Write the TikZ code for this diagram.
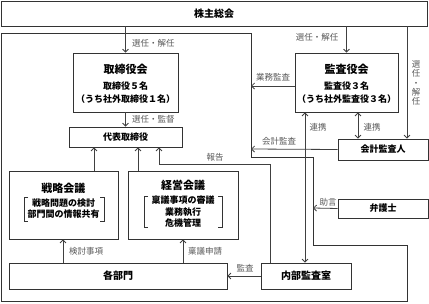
\documentclass[tikz,border=0pt]{standalone}
\usepackage{fontspec}
\setmainfont{Noto Sans CJK JP}
\usetikzlibrary{arrows.meta}
\begin{document}
\begin{tikzpicture}[x=1pt,y=-1pt,
  frame/.style={draw=black!80, line width=0.8pt},
  box/.style={draw=black!80, line width=0.8pt, fill=white, inner sep=0pt, align=center,
    font=\fontsize{9}{11}\selectfont\bfseries},
  txt/.style={inner sep=0pt, align=center, font=\fontsize{9}{11}\selectfont\bfseries},
  ttl/.style={inner sep=0pt, align=center, font=\fontsize{11}{13}\selectfont\bfseries},
  arr/.style={draw=black!75, line width=0.8pt, -{Straight Barb[length=3pt,width=6pt]}},
  darr/.style={draw=black!75, line width=0.8pt, {Straight Barb[length=3pt,width=6pt]}-{Straight Barb[length=3pt,width=6pt]}},
  lbl/.style={text=black!65, inner sep=0pt, font=\fontsize{8.5}{9.2}\selectfont},
  brk/.style={draw=black!80, line width=0.7pt},
]
\useasboundingbox (0,0) rectangle (429,303);

% company frame
\draw[frame] (1,33) -- (251,33) -- (251,157) -- (313,157) -- (313,245) -- (407,245) -- (407,301) -- (1,301) -- cycle;

% boxes
\node[box, minimum width=426pt, minimum height=25pt, font=\fontsize{10}{12}\selectfont\bfseries] (sh) at (214,13.5) {株主総会};
\node[box, minimum width=105pt, minimum height=59pt] (bod) at (125.5,82.5) {};
\node[ttl] (bodt) at (125.5,69) {取締役会};
\node[txt] (bod1) at (125.5,86) {取締役５名};
\node[txt] (bod2) at (125.5,99) {（うち社外取締役１名）};

\node[box, minimum width=113pt, minimum height=20pt] (rep) at (125.5,137) {代表取締役};

\node[box, minimum width=109pt, minimum height=68pt] (strat) at (63.5,205) {};
\node[ttl] (stratt) at (63.5,188) {戦略会議};
\node[txt] (strat1) at (63.5,203) {戦略問題の検討};
\node[txt] (strat2) at (63.5,214) {部門間の情報共有};
\draw[brk] (28,197) -- (24,197) -- (24,221) -- (28,221);
\draw[brk] (100,197) -- (104,197) -- (104,221) -- (100,221);

\node[box, minimum width=110pt, minimum height=68pt] (mgmt) at (183,205) {};
\node[ttl] (mgmtt) at (183,185) {経営会議};
\node[txt] (mgmt1) at (183,200) {稟議事項の審議};
\node[txt] (mgmt2) at (183,212) {業務執行};
\node[txt] (mgmt3) at (183,223) {危機管理};
\draw[brk] (148,196) -- (144,196) -- (144,227) -- (148,227);
\draw[brk] (218,196) -- (222,196) -- (222,227) -- (218,227);

\node[box, minimum width=218pt, minimum height=26pt, font=\fontsize{10}{12}\selectfont\bfseries] (dept) at (118,276) {各部門};
\node[box, minimum width=90pt, minimum height=26pt, font=\fontsize{10}{12}\selectfont\bfseries] (ia) at (306,276) {内部監査室};

\node[box, minimum width=103pt, minimum height=59pt] (kansa) at (346.5,82.5) {};
\node[ttl] (kansat) at (346.5,69) {監査役会};
\node[txt] (kansa1) at (346.5,86) {監査役３名};
\node[txt] (kansa2) at (346.5,99) {（うち社外監査役３名）};

\node[box, minimum width=90pt, minimum height=21pt] (aud) at (383,149.5) {会計監査人};
\node[box, minimum width=90pt, minimum height=19pt] (law) at (383,208.5) {弁護士};

% helper coordinates
\coordinate (c94) at (94,0);
\coordinate (c138) at (138,0);
\coordinate (c159) at (159,0);
\coordinate (c270) at (270,0);
\coordinate (c305) at (305,0);
\coordinate (c358) at (358,0);
\coordinate (c407) at (407,0);
\coordinate (c63) at (63,0);
\coordinate (y164) at (0,164);
\coordinate (fa) at (251,86);
\coordinate (fb) at (251,149);
\coordinate (fc) at (313,208);

% connectors
\draw[arr] (bod.north |- sh.south) -- (bod.north);
\draw[arr] (bod.south) -- (rep.north);
\draw[arr] (strat.north -| c94) -- (rep.south -| c94);
\draw[arr] (mgmt.north -| c138) -- (rep.south -| c138);
\draw[arr] (ia.north -| c270) -- (c270 |- y164) -- (c159 |- y164) -- (rep.south -| c159);
\draw[arr] (dept.north -| c63) -- (strat.south -| c63);
\draw[arr] (dept.north -| mgmt.south) -- (mgmt.south);
\draw[arr] (ia.west) -- (dept.east);
\draw[arr] (kansa.north |- sh.south) -- (kansa.north);
\draw[arr] (kansa.west |- fa) -- (fa);
\draw[arr] (aud.west) -- (fb);
\draw[darr] (kansa.south -| c305) -- (ia.north -| c305);
\draw[darr] (kansa.south -| c358) -- (aud.north -| c358);
\draw[arr] (sh.south -| c407) -- (aud.north -| c407);
\draw[arr] (law.west) -- (fc);

% labels
\node[lbl, anchor=west] (l1) at (132,43) {選任・解任};
\node[lbl, anchor=west] (l2) at (132,119) {選任・監督};
\node[lbl] (l3) at (317,37) {選任・解任};
\node[lbl] (l4) at (273,77) {業務監査};
\node[lbl] (l5) at (318,127) {連携};
\node[lbl] (l6) at (372,127) {連携};
\node[lbl, align=center] (l7) at (416,83) {選\\任\\・\\解\\任};
\node[lbl] (l8) at (279,141) {会計監査};
\node[lbl] (l9) at (215,157) {報告};
\node[lbl] (l10) at (86,251) {検討事項};
\node[lbl] (l11) at (205,251) {稟議申請};
\node[lbl] (l12) at (245,268) {監査};
\node[lbl] (l13) at (328,202) {助言};
\end{tikzpicture}
\end{document}
